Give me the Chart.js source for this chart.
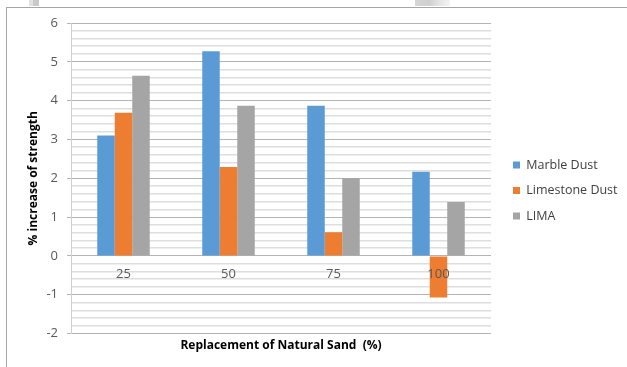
<!DOCTYPE html>
<html>
<head>
<meta charset="utf-8">
<script src="https://cdn.jsdelivr.net/npm/chart.js@4/dist/chart.umd.min.js"></script>
<style>
  html, body { margin: 0; padding: 0; background: #fff; }
  #wrap { position: relative; width: 627px; height: 367px; overflow: hidden; }
  .frame-top { position: absolute; left: 6px; top: 7px; width: 621px; height: 1px; background: #a6a6a6; }
  .frame-left { position: absolute; left: 6px; top: 7px; width: 1px; height: 360px; background: #a6a6a6; }
  .tab1 { position: absolute; left: 29px; top: 0; width: 4px; height: 6px; background: #e2e2e2; }
  .tab2 { position: absolute; left: 33px; top: 0; width: 6px; height: 6px; background: #c9c9c9; }
  .tab3 { position: absolute; left: 415px; top: 0; width: 35px; height: 6px;
          background: linear-gradient(to right, #d6d6d6, #cfcfcf 40%, #e4e4e4 70%, #f4f4f4); }
  canvas { position: absolute; left: 0; top: 0; }
</style>
</head>
<body>
<div id="wrap">
  <div class="frame-top"></div>
  <div class="frame-left"></div>
  <div class="tab1"></div><div class="tab2"></div><div class="tab3"></div>
  <canvas id="c" width="627" height="367"></canvas>
</div>
<script>
// Replacement levels of natural sand (%)
const categories = ['25', '50', '75', '100'];
// % increase of strength for each filler
const marbleDust = [3.10, 5.27, 3.87, 2.17];
const limestoneDust = [3.69, 2.29, 0.61, -1.07];
const lima = [4.64, 3.87, 2.00, 1.39];
const seriesNames = ['Marble Dust', 'Limestone Dust', 'LIMA'];
const yMin = -2, yMax = 6;

const FONT = '"Open Sans", Lato, sans-serif';
const isWhole = v => Math.abs(v - Math.round(v)) < 1e-6;

new Chart(document.getElementById('c'), {
  type: 'bar',
  data: {
    labels: categories,
    datasets: [
      { label: seriesNames[0], data: marbleDust, backgroundColor: '#5B9BD5' },
      { label: seriesNames[1], data: limestoneDust, backgroundColor: '#ED7D31' },
      { label: seriesNames[2], data: lima, backgroundColor: '#A5A5A5' }
    ]
  },
  options: {
    responsive: false,
    animation: false,
    layout: { padding: { top: 23, right: 3, bottom: 9, left: 0 } },
    datasets: { bar: { categoryPercentage: 0.5, barPercentage: 1.0 } },
    scales: {
      x: {
        position: { y: 0 },
        grid: { display: false, drawTicks: false },
        border: { display: false },
        // category labels sit on top of the bars
        ticks: { z: 1, color: '#595959', font: { family: FONT, size: 13 }, padding: 11 }
      },
      y: {
        min: yMin, max: yMax,
        afterFit: s => { s.width = 71; },
        grid: {
          color: ctx => isWhole(ctx.tick.value) ? '#b4b4b4' : '#dedede',
          lineWidth: ctx => isWhole(ctx.tick.value) ? 1 : 1.6,
          tickColor: ctx => isWhole(ctx.tick.value) ? '#b4b4b4' : 'rgba(0,0,0,0)',
          tickLength: 4
        },
        border: { color: '#d0d0d0' },
        ticks: {
          stepSize: 0.2,
          maxTicksLimit: 100,
          autoSkip: false,
          padding: 9,
          color: '#595959',
          font: { family: FONT, size: 13 },
          callback: v => isWhole(v) ? String(Math.round(v)) : ''
        },
        title: {
          display: true,
          text: '% increase of strength',
          color: '#000',
          font: { family: FONT, size: 12, weight: 'bold' },
          padding: { top: 26, bottom: 0 }
        }
      },
      gap: {
        position: 'right',
        display: true,
        afterFit: s => { s.width = 9; },
        grid: { display: false, drawTicks: false },
        border: { display: false },
        ticks: { display: false }
      }
    },
    plugins: {
      legend: {
        position: 'right',
        maxWidth: 124,
        labels: {
          boxWidth: 7, boxHeight: 7, padding: 13,
          color: '#404040',
          font: { family: FONT, size: 12.5 }
        }
      },
      title: {
        display: true,
        position: 'bottom',
        fullSize: false,
        text: 'Replacement of Natural Sand  (%)',
        color: '#000',
        font: { family: FONT, size: 12, weight: 'bold' },
        padding: { top: 5, bottom: 5 }
      },
      tooltip: { enabled: false }
    }
  }
});
</script>
</body>
</html>
